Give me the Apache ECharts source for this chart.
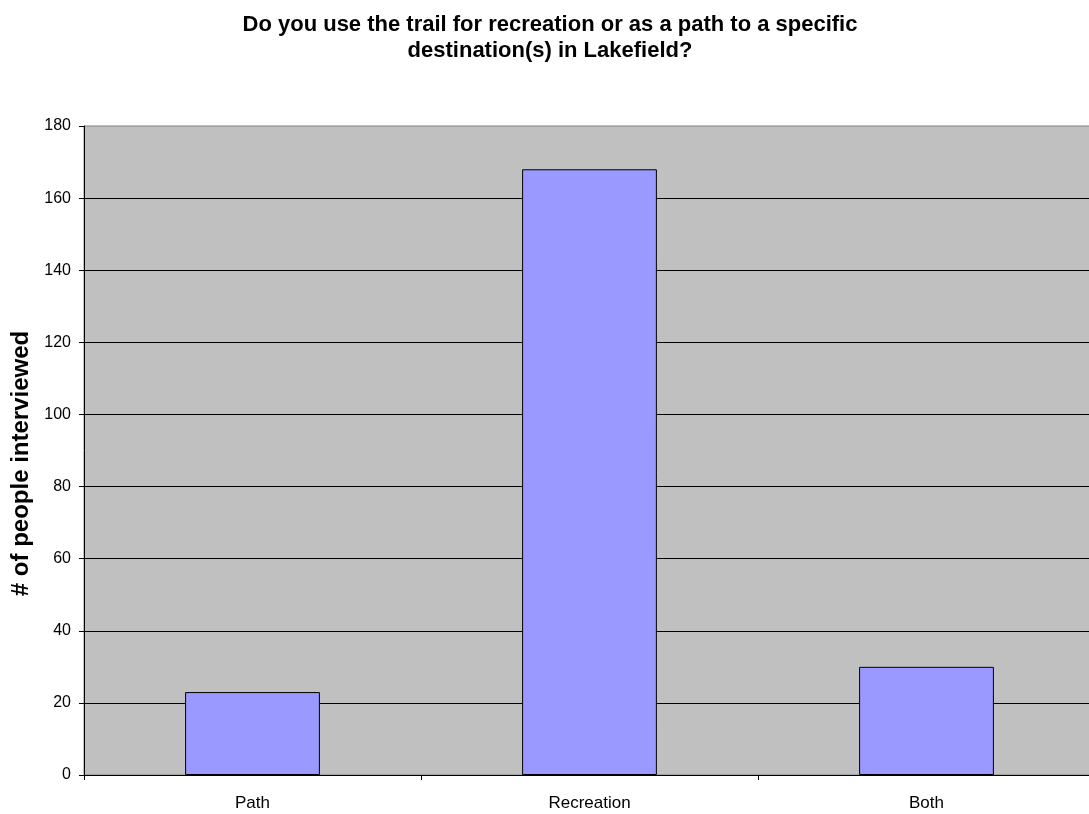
<!DOCTYPE html>
<html>
<head>
<meta charset="utf-8">
<script src="https://cdn.jsdelivr.net/npm/echarts@6/dist/echarts.min.js"></script>
<style>
  html, body { margin: 0; padding: 0; background: #fff; }
  #chart { width: 1089px; height: 814px; }
</style>
</head>
<body>
<div id="chart"></div>
<script>
const categories = ['Path', 'Recreation', 'Both'];
const peopleInterviewed = [23, 168, 30];
const titleText = 'Do you use the trail for recreation or as a path to a specific\ndestination(s) in Lakefield?';
const yAxisName = '# of people interviewed';

const chart = echarts.init(document.getElementById('chart'), null, { renderer: 'canvas' });
const font = '"Liberation Sans", Arial, sans-serif';

chart.setOption({
  animation: false,
  backgroundColor: '#ffffff',
  title: {
    text: titleText,
    left: 545,
    top: 7,
    textAlign: 'center',
    textStyle: { fontFamily: font, fontSize: 22, fontWeight: 'bold', color: '#000', lineHeight: 26 }
  },
  grid: {
    left: 84,
    top: 126,
    width: 1011,
    height: 649,
    outerBoundsMode: 'none',
    containLabel: false,
    show: true,
    backgroundColor: '#c0c0c0',
    borderColor: '#808080',
    borderWidth: 1
  },
  xAxis: {
    type: 'category',
    data: categories,
    axisLine: { lineStyle: { color: '#000', width: 1 } },
    axisTick: { show: true, length: 5, lineStyle: { color: '#000' } },
    axisLabel: { fontFamily: font, fontSize: 17, color: '#000', margin: 20 }
  },
  yAxis: {
    type: 'value',
    min: 0,
    max: 180,
    interval: 20,
    name: yAxisName,
    nameLocation: 'middle',
    nameGap: 49,
    nameTextStyle: { fontFamily: font, fontSize: 24, fontWeight: 'bold', color: '#000', padding: [0, 26, 0, 0] },
    axisLine: { show: true, lineStyle: { color: '#000', width: 1 } },
    axisTick: { show: true, length: 5, lineStyle: { color: '#000' } },
    axisLabel: { fontFamily: font, fontSize: 16, color: '#000', margin: 13 },
    splitLine: { show: true, showMaxLine: false, lineStyle: { color: '#000', width: 1 } }
  },
  series: [{
    type: 'bar',
    data: peopleInterviewed,
    barWidth: '40%',
    itemStyle: { color: '#9999ff', borderColor: '#000', borderWidth: 1 }
  }]
});
</script>
</body>
</html>
